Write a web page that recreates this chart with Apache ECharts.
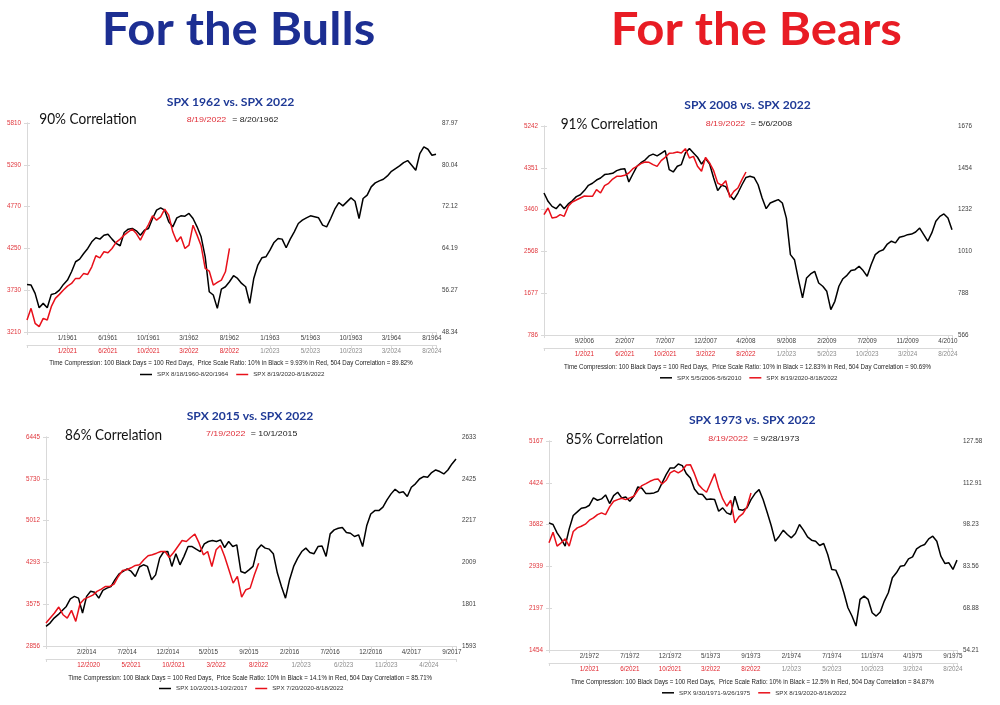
<!DOCTYPE html>
<html>
<head>
<meta charset="utf-8">
<title>SPX analogs vs 2022</title>
<script src="https://cdn.jsdelivr.net/npm/echarts/dist/echarts.min.js"></script>
<style>
  html, body { margin: 0; padding: 0; background: #fff; }
  #main { width: 1000px; height: 705px; }
</style>
</head>
<body>
<div id="main"></div>
<script>
// ---- data (black = old year, right axis; red = 2020-2022, left axis), one point per 10 trading days ----
const p1Black = [57.36, 57.24, 55.66, 52.95, 53.77, 52.95, 55.47, 55.66, 56.29, 57.36,
  58.19, 59.76, 61.66, 62.16, 63.23, 64.18, 65.44, 66.20, 65.95, 66.70,
  66.89, 65.95, 65.13, 64.69, 67.21, 67.84, 67.97, 67.53, 66.70, 67.65,
  67.97, 69.86, 71.44, 71.88, 71.44, 69.23, 68.28, 69.99, 70.37, 70.30,
  70.81, 69.86, 68.28, 66.39, 62.60, 55.98, 55.35, 52.82, 56.48, 56.92,
  57.87, 59.01, 58.50, 57.55, 56.92, 53.77, 58.50, 61.03, 62.41, 62.60,
  63.86, 65.32, 66.07, 65.95, 64.31, 65.95, 67.34, 68.91, 69.54, 69.99,
  70.37, 70.18, 69.99, 68.60, 68.28, 69.86, 71.63, 72.89, 72.26, 73.02,
  73.77, 73.14, 69.86, 73.65, 74.28, 75.86, 76.61, 76.99, 77.31, 77.94,
  78.82, 79.33, 79.83, 80.46, 80.84, 79.96, 79.01, 82.17, 83.43, 82.99,
  81.85, 82.04];
const p1Red = [3359, 3504, 3318, 3276, 3380, 3359, 3525, 3628, 3678, 3732,
  3781, 3814, 3877, 3877, 3939, 3926, 4021, 4158, 4133, 4208,
  4195, 4249, 4324, 4365, 4415, 4456, 4489, 4435, 4353, 4456,
  4547, 4655, 4601, 4642, 4738, 4663, 4456, 4332, 4394, 4249,
  4291, 4539, 4415, 4282, 4001, 3968, 3794, 3827, 3856, 3959, 4249];
const p1BlackX = ['1/1961', '6/1961', '10/1961', '3/1962', '8/1962', '1/1963', '5/1963', '10/1963', '3/1964', '8/1964'];
const p1RedX = ['1/2021', '6/2021', '10/2021', '3/2022', '8/2022', '1/2023', '5/2023', '10/2023', '3/2024', '8/2024'];
const p1LeftY = ['3210', '3730', '4250', '4770', '5290', '5810'];
const p1RightY = ['48.34', '56.27', '64.19', '72.12', '80.04', '87.97'];

const p2Black = [1320, 1276, 1249, 1237, 1262, 1237, 1262, 1279, 1301, 1311,
  1333, 1361, 1372, 1389, 1400, 1418, 1421, 1425, 1439, 1446,
  1449, 1379, 1421, 1462, 1481, 1495, 1517, 1527, 1517, 1531,
  1545, 1444, 1432, 1462, 1471, 1533, 1556, 1533, 1510, 1474,
  1503, 1474, 1400, 1333, 1361, 1354, 1308, 1285, 1320, 1364,
  1403, 1409, 1403, 1364, 1294, 1237, 1267, 1276, 1285, 1267,
  1187, 993, 966, 860, 763, 869, 890, 904, 842, 825,
  798, 701, 745, 825, 865, 883, 908, 913, 931, 908,
  878, 940, 993, 1010, 1019, 1049, 1064, 1055, 1085, 1090,
  1099, 1102, 1113, 1134, 1099, 1064, 1108, 1170, 1196, 1209,
  1187, 1125];
const p2Red = [3352, 3494, 3281, 3295, 3352, 3316, 3529, 3622, 3664, 3707,
  3750, 3743, 3743, 3885, 3814, 3970, 4020, 4112, 4169, 4169,
  4190, 4240, 4332, 4382, 4439, 4475, 4467, 4418, 4382, 4503,
  4574, 4659, 4666, 4688, 4666, 4759, 4560, 4595, 4382, 4276,
  4574, 4453, 4290, 4027, 3977, 4077, 3721, 3849, 3920, 4098, 4261];
const p2BlackX = ['9/2006', '2/2007', '7/2007', '12/2007', '4/2008', '9/2008', '2/2009', '7/2009', '11/2009', '4/2010'];
const p2RedX = ['1/2021', '6/2021', '10/2021', '3/2022', '8/2022', '1/2023', '5/2023', '10/2023', '3/2024', '8/2024'];
const p2LeftY = ['786', '1677', '2568', '3460', '4351', '5242'];
const p2RightY = ['566', '788', '1010', '1232', '1454', '1676'];

const p3Black = [1691, 1707, 1732, 1749, 1770, 1790, 1828, 1840, 1831, 1757,
  1840, 1865, 1860, 1831, 1870, 1881, 1889, 1923, 1952, 1964,
  1977, 1964, 1939, 1986, 1997, 1989, 1923, 1947, 2030, 2062,
  2063, 1989, 2052, 1997, 2039, 2088, 2088, 2075, 2063, 2101,
  2113, 2118, 2113, 2121, 2083, 2113, 2088, 2096, 1964, 1956,
  1972, 1989, 2072, 2096, 2080, 2075, 2052, 1956, 1889, 1831,
  1923, 1989, 2030, 2063, 2080, 2058, 2052, 2088, 2091, 2039,
  2151, 2171, 2179, 2183, 2158, 2154, 2138, 2146, 2088, 2191,
  2250, 2267, 2267, 2284, 2320, 2350, 2373, 2356, 2361, 2337,
  2383, 2400, 2424, 2436, 2433, 2456, 2469, 2461, 2449, 2469,
  2499, 2524];
const p3Red = [3250, 3336, 3422, 3525, 3393, 3336, 3468, 3279, 3582, 3662,
  3696, 3730, 3793, 3833, 3879, 3879, 3919, 4050, 4153, 4165,
  4199, 4239, 4250, 4336, 4405, 4422, 4450, 4479, 4479, 4376,
  4462, 4565, 4668, 4651, 4719, 4776, 4622, 4422, 4479, 4222,
  4508, 4582, 4393, 4165, 3936, 4050, 3696, 3822, 3850, 4079, 4279];
const p3BlackX = ['2/2014', '7/2014', '12/2014', '5/2015', '9/2015', '2/2016', '7/2016', '12/2016', '4/2017', '9/2017'];
const p3RedX = ['12/2020', '5/2021', '10/2021', '3/2022', '8/2022', '1/2023', '6/2023', '11/2023', '4/2024'];
const p3LeftY = ['2856', '3575', '4293', '5012', '5730', '6445'];
const p3RightY = ['1593', '1801', '2009', '2217', '2425', '2633'];

const p4Black = [98.84, 98.26, 95.33, 93.23, 90.66, 96.74, 101.41, 102.69, 103.98, 104.21,
  105.03, 107.60, 106.78, 107.25, 108.65, 105.62, 108.42, 109.59, 107.60, 107.95,
  106.43, 108.19, 111.46, 110.99, 109.12, 109.12, 109.35, 109.94, 112.86, 115.78,
  118.12, 118.12, 119.52, 118.93, 116.13, 114.61, 110.76, 109.00, 108.77, 107.02,
  107.25, 107.02, 102.93, 104.10, 102.34, 101.76, 108.19, 103.51, 103.28, 104.10,
  107.02, 109.12, 110.52, 107.02, 102.58, 97.90, 92.41, 94.17, 96.27, 94.75,
  93.58, 95.10, 98.26, 96.27, 93.93, 92.76, 92.41, 90.89, 91.60, 87.74,
  82.48, 82.25, 78.98, 74.30, 69.05, 66.13, 62.62, 71.97, 73.14, 71.97,
  67.29, 66.13, 67.53, 71.38, 74.30, 79.56, 81.31, 83.65, 83.88, 86.22,
  86.92, 89.73, 90.66, 91.24, 93.23, 94.17, 92.41, 87.16, 84.59, 84.82,
  82.48, 85.75];
const p4Red = [3358, 3547, 3299, 3358, 3429, 3299, 3559, 3624, 3653, 3689,
  3760, 3801, 3860, 3890, 3860, 3996, 4097, 4126, 4150, 4126,
  4156, 4185, 4292, 4375, 4410, 4451, 4481, 4493, 4404, 4469,
  4599, 4641, 4599, 4646, 4741, 4747, 4587, 4392, 4315, 4256,
  4422, 4587, 4333, 4138, 4008, 4114, 3712, 3819, 3878, 3996, 4244];
const p4BlackX = ['2/1972', '7/1972', '12/1972', '5/1973', '9/1973', '2/1974', '7/1974', '11/1974', '4/1975', '9/1975'];
const p4RedX = ['1/2021', '6/2021', '10/2021', '3/2022', '8/2022', '1/2023', '5/2023', '10/2023', '3/2024', '8/2024'];
const p4LeftY = ['1454', '2197', '2939', '3682', '4424', '5167'];
const p4RightY = ['54.21', '68.88', '83.56', '98.23', '112.91', '127.58'];

const STEP = 10 // trading days between points

const panels = [
  {
    black: p1Black, red: p1Red, bx: p1BlackX, rx: p1RedX, ly: p1LeftY, ry: p1RightY, redMax: 1010,
    blackName: 'SPX 8/18/1960-8/20/1964', redName: 'SPX 8/19/2020-8/18/2022',
    grid: { left: 27, top: 123, width: 409, height: 209 },
    title: 'SPX 1962 vs. SPX 2022', corr: '90% Correlation', rDate: '8/19/2022', bDate: '= 8/20/1962',
    caption: 'Time Compression: 100 Black Days = 100 Red Days,  Price Scale Ratio: 10% in Black = 9.93% in Red, 504 Day Correlation = 89.82%',
    pos: { sub: [230.5, 101.7, 127.6], corr: [39.3, 119.3, 97.4], rd: [186.7, 120, 39.6], bd: [232.3, 120, 46], cap: [231, 363.7, 363.4], leg: [140, 371.5] }
  },
  {
    black: p2Black, red: p2Red, bx: p2BlackX, rx: p2RedX, ly: p2LeftY, ry: p2RightY, redMax: 1010,
    blackName: 'SPX 5/5/2006-5/6/2010', redName: 'SPX 8/19/2020-8/18/2022',
    grid: { left: 544, top: 126, width: 408, height: 209 },
    title: 'SPX 2008 vs. SPX 2022', corr: '91% Correlation', rDate: '8/19/2022', bDate: '= 5/6/2008',
    caption: 'Time Compression: 100 Black Days = 100 Red Days,  Price Scale Ratio: 10% in Black = 12.83% in Red, 504 Day Correlation = 90.69%',
    pos: { sub: [747.5, 105, 126.3], corr: [560.7, 124.3, 97], rd: [705.7, 123.3, 39.6], bd: [750.7, 123.3, 41.3], cap: [747.5, 367.7, 367], leg: [660, 374.8] }
  },
  {
    black: p3Black, red: p3Red, bx: p3BlackX, rx: p3RedX, ly: p3LeftY, ry: p3RightY, redMax: 964,
    blackName: 'SPX 10/2/2013-10/2/2017', redName: 'SPX 7/20/2020-8/18/2022',
    grid: { left: 46, top: 437, width: 410, height: 209 },
    title: 'SPX 2015 vs. SPX 2022', corr: '86% Correlation', rDate: '7/19/2022', bDate: '= 10/1/2015',
    caption: 'Time Compression: 100 Black Days = 100 Red Days,  Price Scale Ratio: 10% in Black = 14.1% in Red, 504 Day Correlation = 85.71%',
    pos: { sub: [250, 415.7, 126.6], corr: [65, 435, 97], rd: [206, 434, 39.3], bd: [250.7, 434, 46.6], cap: [250.2, 678.3, 363.7], leg: [159, 685.5] }
  },
  {
    black: p4Black, red: p4Red, bx: p4BlackX, rx: p4RedX, ly: p4LeftY, ry: p4RightY, redMax: 1010,
    blackName: 'SPX 9/30/1971-9/26/1975', redName: 'SPX 8/19/2020-8/18/2022',
    grid: { left: 549, top: 441, width: 408, height: 209 },
    title: 'SPX 1973 vs. SPX 2022', corr: '85% Correlation', rDate: '8/19/2022', bDate: '= 9/28/1973',
    caption: 'Time Compression: 100 Black Days = 100 Red Days,  Price Scale Ratio: 10% in Black = 12.5% in Red, 504 Day Correlation = 84.87%',
    pos: { sub: [752.3, 420, 126.7], corr: [566, 439, 97], rd: [708.3, 438.7, 39.7], bd: [753.3, 438.7, 46], cap: [752.5, 682.7, 363], leg: [662, 689.8] }
  }
]

const GREY = '#d9d9d9'
const RED = '#e8101a'

// text measured on a canvas so it can be squeezed to the width seen in the picture
const mctx = document.createElement('canvas').getContext('2d')
function txt(x, y, s, font, color, w, align) {
  mctx.font = font
  const sx = w ? w / mctx.measureText(s).width : 1
  return {
    type: 'text', x: x, y: y, scaleX: sx, silent: true,
    style: {
      text: s, font: font, fill: color,
      textAlign: align || 'left', align: align || 'left',
      textVerticalAlign: 'middle', verticalAlign: 'middle'
    }
  }
}

function yFmt(labels) {
  const min = parseFloat(labels[0])
  const step = (parseFloat(labels[labels.length - 1]) - min) / (labels.length - 1)
  return function(v) {
    const i = Math.round((v - min) / step)
    return Math.abs(v - (min + i * step)) < step / 10 && labels[i] ? labels[i] : ''
  }
}

function xFmt(labels, rich) {
  return function(v) {
    if (v % 100 !== 0) return ''
    const i = v / 100 - 1
    if (i < 0 || !labels[i]) return ''
    if (!rich) return labels[i]
    return (i < 5 ? '{r|' : '{g|') + labels[i] + '}'
  }
}

const grids = []
const xAxes = []
const yAxes = []
const series = []
const legends = []
const graphics = [
  txt(101.7, 30, 'For the Bulls', 'bold 46px Lato', '#1c2e92', 273.5),
  txt(610.7, 30.5, 'For the Bears', 'bold 46px Lato', '#e81c24', 291)
]

panels.forEach(function(p, k) {
  grids.push(Object.assign({ containLabel: false }, p.grid))

  const axisLine = { show: true, lineStyle: { color: GREY, width: 1 } }
  const axisTick = { show: true, length: 3, lineStyle: { color: GREY } }

  // black date axis, at the bottom of the plot
  xAxes.push({
    gridIndex: k, type: 'value', min: 0, max: 1010, interval: 100, position: 'bottom',
    axisLine: axisLine, axisTick: axisTick, splitLine: { show: false },
    axisLabel: { fontSize: 6.3, color: '#404040', margin: 3, formatter: xFmt(p.bx, false) }
  })
  // red date axis, just below it
  xAxes.push({
    gridIndex: k, type: 'value', min: 0, max: p.redMax, interval: 100, position: 'bottom', offset: 13,
    axisLine: axisLine, axisTick: axisTick, splitLine: { show: false },
    axisLabel: {
      fontSize: 6.3, margin: 3, formatter: xFmt(p.rx, true),
      rich: { r: { color: '#e0262e', fontSize: 6.3 }, g: { color: '#8c8c8c', fontSize: 6.3 }}
    }
  })

  const lmin = parseFloat(p.ly[0])
  const lmax = parseFloat(p.ly[5])
  const rmin = parseFloat(p.ry[0])
  const rmax = parseFloat(p.ry[5])
  yAxes.push({
    gridIndex: k, type: 'value', position: 'left', min: lmin, max: lmax, interval: (lmax - lmin) / 5,
    axisLine: axisLine, axisTick: axisTick, splitLine: { show: false },
    axisLabel: { fontSize: 6.3, color: '#e0363c', margin: 6, formatter: yFmt(p.ly) }
  })
  yAxes.push({
    gridIndex: k, type: 'value', position: 'right', min: rmin, max: rmax, interval: (rmax - rmin) / 5,
    axisLine: axisLine, axisTick: axisTick, splitLine: { show: false },
    axisLabel: { fontSize: 6.3, color: '#404040', margin: 6, formatter: yFmt(p.ry) }
  })

  series.push({
    name: p.blackName, type: 'line', xAxisIndex: 2 * k, yAxisIndex: 2 * k + 1,
    data: p.black.map(function(v, i) { return [i * STEP, v] }),
    showSymbol: false, symbol: 'none',
    lineStyle: { color: '#000', width: 1.5 }, itemStyle: { color: '#000' }
  })
  series.push({
    name: p.redName, type: 'line', xAxisIndex: 2 * k + 1, yAxisIndex: 2 * k,
    data: p.red.map(function(v, i) { return [i * STEP, v] }),
    showSymbol: false, symbol: 'none',
    lineStyle: { color: RED, width: 1.5 }, itemStyle: { color: RED }
  })

  legends.push({
    data: [p.blackName, p.redName], left: p.pos.leg[0], top: p.pos.leg[1], padding: 0,
    icon: 'rect', itemWidth: 12, itemHeight: 1.5, itemGap: 8, selectedMode: false,
    textStyle: { fontSize: 6.2, color: '#333' }
  })

  const q = p.pos
  graphics.push(txt(q.sub[0], q.sub[1], p.title, 'bold 12px Lato', '#1f3a96', q.sub[2], 'center'))
  graphics.push(txt(q.corr[0], q.corr[1], p.corr, '15px Lato', '#111', q.corr[2]))
  graphics.push(txt(q.rd[0], q.rd[1], p.rDate, '8px "Liberation Sans"', '#e0303a', q.rd[2]))
  graphics.push(txt(q.bd[0], q.bd[1], p.bDate, '8px "Liberation Sans"', '#222', q.bd[2]))
  graphics.push(txt(q.cap[0], q.cap[1], p.caption, '6.5px "Liberation Sans"', '#222', q.cap[2], 'center'))
})

const chart = echarts.init(document.getElementById('main'), null, { renderer: 'canvas' })
chart.setOption({
  backgroundColor: '#fff',
  animation: false,
  textStyle: { fontFamily: '"Liberation Sans", Arial, sans-serif' },
  grid: grids,
  xAxis: xAxes,
  yAxis: yAxes,
  legend: legends,
  series: series,
  graphic: graphics
})
</script>
</body>
</html>
